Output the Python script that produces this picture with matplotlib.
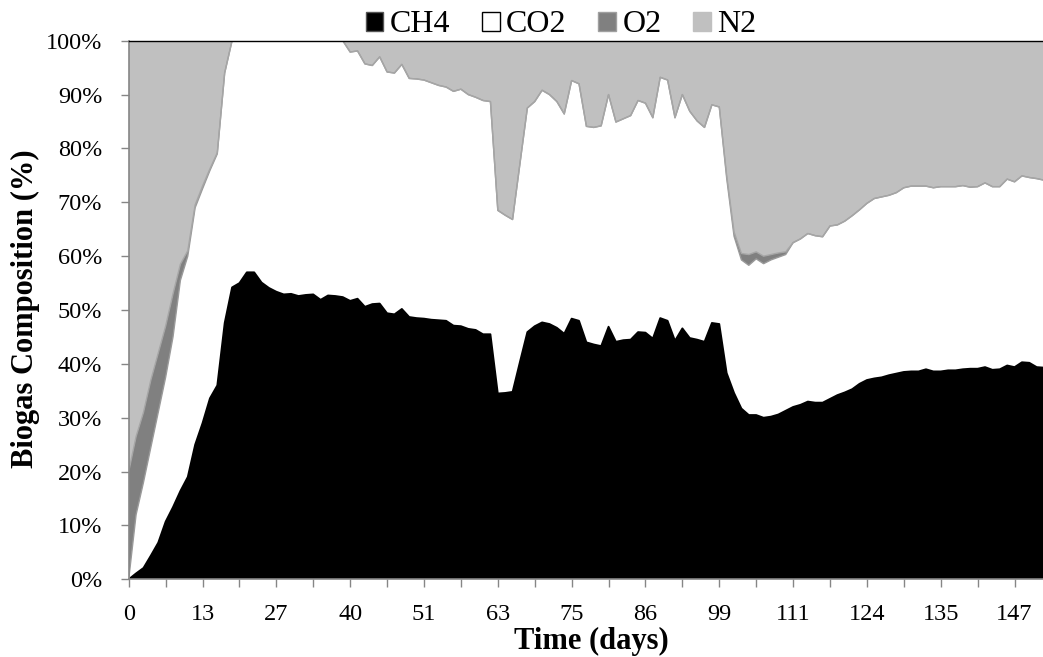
import numpy as np
import matplotlib
matplotlib.use("Agg")
import matplotlib.pyplot as plt
from matplotlib.patches import Patch
from matplotlib.ticker import FuncFormatter

plt.rcParams['font.family'] = ['Liberation Serif', 'DejaVu Serif']

# sample number (equally spaced categories, as in the original sheet)
sample = np.arange(125)

# biogas composition, % of total
ch4 = [0, 1.1, 2.1, 4.4, 6.8, 10.7, 13.4, 16.4, 19.0, 25.0,
       29.0, 33.6, 36.0, 47.6, 54.2, 55.0, 57.0, 57.0, 55.1, 54.1,
       53.4, 52.9, 53.0, 52.6, 52.8, 52.9, 51.9, 52.7, 52.6, 52.4,
       51.7, 52.1, 50.6, 51.1, 51.2, 49.4, 49.2, 50.2, 48.7, 48.5,
       48.4, 48.2, 48.1, 48.0, 47.1, 47.0, 46.5, 46.3, 45.5, 45.5,
       34.5, 34.6, 34.8, 40.4, 45.9, 47.0, 47.7, 47.4, 46.7, 45.6,
       48.4, 48.0, 44.0, 43.6, 43.3, 46.9, 44.1, 44.4, 44.5, 45.9,
       45.8, 44.7, 48.5, 48.0, 44.3, 46.6, 44.8, 44.5, 44.1, 47.6,
       47.4, 38.3, 34.6, 31.7, 30.5, 30.5, 30.0, 30.2, 30.6, 31.3,
       32.0, 32.4, 33.0, 32.8, 32.8, 33.5, 34.2, 34.7, 35.3, 36.3,
       37.0, 37.3, 37.5, 37.9, 38.2, 38.5, 38.6, 38.6, 39.0, 38.6,
       38.6, 38.8, 38.8, 39.0, 39.1, 39.1, 39.4, 38.9, 39.0, 39.7,
       39.4, 40.3, 40.2, 39.4, 39.3]
co2 = [0, 10.9, 15.9, 20.1, 24.2, 26.8, 31.6, 39.1, 41.0, 44.0,
       43.5, 42.3, 43.0, 46.4, 45.8, 45.0, 43.0, 43.0, 44.9, 45.9,
       46.6, 47.1, 47.0, 47.4, 47.2, 47.1, 48.1, 47.3, 47.4, 47.6,
       46.2, 46.0, 45.1, 44.3, 45.8, 44.8, 44.8, 45.4, 44.3, 44.4,
       44.3, 44.0, 43.6, 43.4, 43.5, 44.0, 43.5, 43.2, 43.4, 43.2,
       34.0, 33.0, 32.0, 36.8, 41.6, 41.7, 43.1, 42.6, 42.0, 40.8,
       44.2, 44.0, 40.1, 40.3, 40.9, 43.1, 40.8, 41.1, 41.6, 43.0,
       42.6, 41.0, 44.7, 44.7, 41.4, 43.4, 42.1, 40.6, 39.8, 40.5,
       40.3, 36.2, 29.1, 27.6, 27.8, 29.0, 28.6, 29.1, 29.2, 29.0,
       30.5, 30.8, 31.2, 31.0, 30.8, 32.1, 31.6, 31.8, 32.2, 32.3,
       32.8, 33.4, 33.5, 33.4, 33.6, 34.2, 34.4, 34.4, 34.0, 34.1,
       34.3, 34.1, 34.1, 34.1, 33.7, 33.8, 34.2, 34.0, 33.9, 34.6,
       34.4, 34.6, 34.4, 35.0, 34.8]
o2 = [20, 14.5, 13, 12.5, 11, 9.5, 8, 3, 1, 0.5,
      0.5, 0.3, 0.2, 0, 0, 0, 0, 0, 0, 0,
      0, 0, 0, 0, 0, 0, 0, 0, 0, 0,
      0, 0, 0, 0, 0, 0, 0, 0, 0, 0,
      0, 0, 0, 0, 0, 0, 0, 0, 0, 0,
      0, 0, 0, 0, 0, 0, 0, 0, 0, 0,
      0, 0, 0, 0, 0, 0, 0, 0, 0, 0,
      0, 0, 0, 0, 0, 0, 0, 0, 0, 0,
      0, 0.5, 0.8, 1.2, 2.0, 1.3, 1.4, 1.0, 0.8, 0.5,
      0, 0, 0, 0, 0, 0, 0, 0, 0, 0,
      0, 0, 0, 0, 0, 0, 0, 0, 0, 0,
      0, 0, 0, 0, 0, 0, 0, 0, 0, 0,
      0, 0, 0, 0, 0]
n2 = [80, 73.5, 69, 63, 58, 53, 47, 41.5, 39, 30.5,
      27, 23.8, 20.8, 6, 0, 0, 0, 0, 0, 0,
      0, 0, 0, 0, 0, 0, 0, 0, 0, 0,
      2.1, 1.9, 4.3, 4.6, 3.0, 5.8, 6.0, 4.4, 7.0, 7.1,
      7.3, 7.8, 8.3, 8.6, 9.4, 9.0, 10.0, 10.5, 11.1, 11.3,
      31.5, 32.4, 33.2, 22.8, 12.5, 11.3, 9.2, 10.0, 11.3, 13.6,
      7.4, 8.0, 15.9, 16.1, 15.8, 10.0, 15.1, 14.5, 13.9, 11.1,
      11.6, 14.3, 6.8, 7.3, 14.3, 10.0, 13.1, 14.9, 16.1, 11.9,
      12.3, 25.0, 35.5, 39.5, 39.7, 39.2, 40.0, 39.7, 39.4, 39.2,
      37.5, 36.8, 35.8, 36.2, 36.4, 34.4, 34.2, 33.5, 32.5, 31.4,
      30.2, 29.3, 29.0, 28.7, 28.2, 27.3, 27.0, 27.0, 27.0, 27.3,
      27.1, 27.1, 27.1, 26.9, 27.2, 27.1, 26.4, 27.1, 27.1, 25.7,
      26.2, 25.1, 25.4, 25.6, 25.9]

series = ['CH4', 'CO2', 'O2', 'N2']
colors = ['#000000', '#ffffff', '#808080', '#c0c0c0']
day_labels = ['0', '13', '27', '40', '51', '63', '75', '86', '99',
              '111', '124', '135', '147']

fig = plt.figure(figsize=(10.43, 6.57), dpi=100)
ax = fig.add_axes([0.1234, 0.1183, 0.8766, 0.8197])

ax.stackplot(sample, ch4, co2, o2, n2, colors=colors, linewidth=0)

# boundary lines between the stacked layers
cum = np.cumsum(np.array([ch4, co2, o2, n2]), axis=0)
ax.plot(sample, cum[0], color='black', lw=1.3)
ax.plot(sample, cum[1], color='#9a9a9a', lw=1.0)
ax.plot(sample, cum[2], color='#a6a6a6', lw=1.0)

ax.set_xlim(0, 123.85)
ax.set_ylim(0, 100)

# x ticks every 5 samples, labelled every 10
xt = np.arange(0, 124, 5)
ax.set_xticks(xt)
xl = []
for i in range(len(xt)):
    xl.append(day_labels[i // 2] if i % 2 == 0 else '')
ax.set_xticklabels(xl)
ax.set_yticks(np.arange(0, 101, 10))
ax.yaxis.set_major_formatter(FuncFormatter(lambda v, p: '%d%%' % v))

ax.tick_params(axis='both', direction='out', length=6, width=1,
               color='#868686', labelsize=17.5)
ax.tick_params(axis='y', pad=13)
ax.tick_params(axis='x', pad=12)

for s in ['left', 'bottom']:
    ax.spines[s].set_color('#868686')
    ax.spines[s].set_linewidth(1.2)
ax.spines['right'].set_visible(False)
ax.spines['top'].set_color('black')
ax.spines['top'].set_linewidth(1.0)

fig.text(591 / 1043, 1 - 641 / 657, 'Time (days)', ha='center', va='center',
         fontsize=22, fontweight='bold')
fig.text(25 / 1043, 1 - 309 / 657, 'Biogas Composition (%)', ha='center',
         va='center', rotation=90, fontsize=22, fontweight='bold')

handles = [Patch(facecolor='#000000', edgecolor='#555555'),
           Patch(facecolor='#ffffff', edgecolor='#000000'),
           Patch(facecolor='#808080', edgecolor='#a0a0a0'),
           Patch(facecolor='#c0c0c0', edgecolor='#c0c0c0')]
fig.legend(handles, series, loc='center', bbox_to_anchor=(561 / 1043, 1 - 25 / 657),
           ncol=4, frameon=False, fontsize=23, handlelength=0.55, handleheight=0.55,
           handletextpad=0.2, columnspacing=1.0, borderpad=0)

plt.savefig('out.png', dpi=100)
plt.close()
